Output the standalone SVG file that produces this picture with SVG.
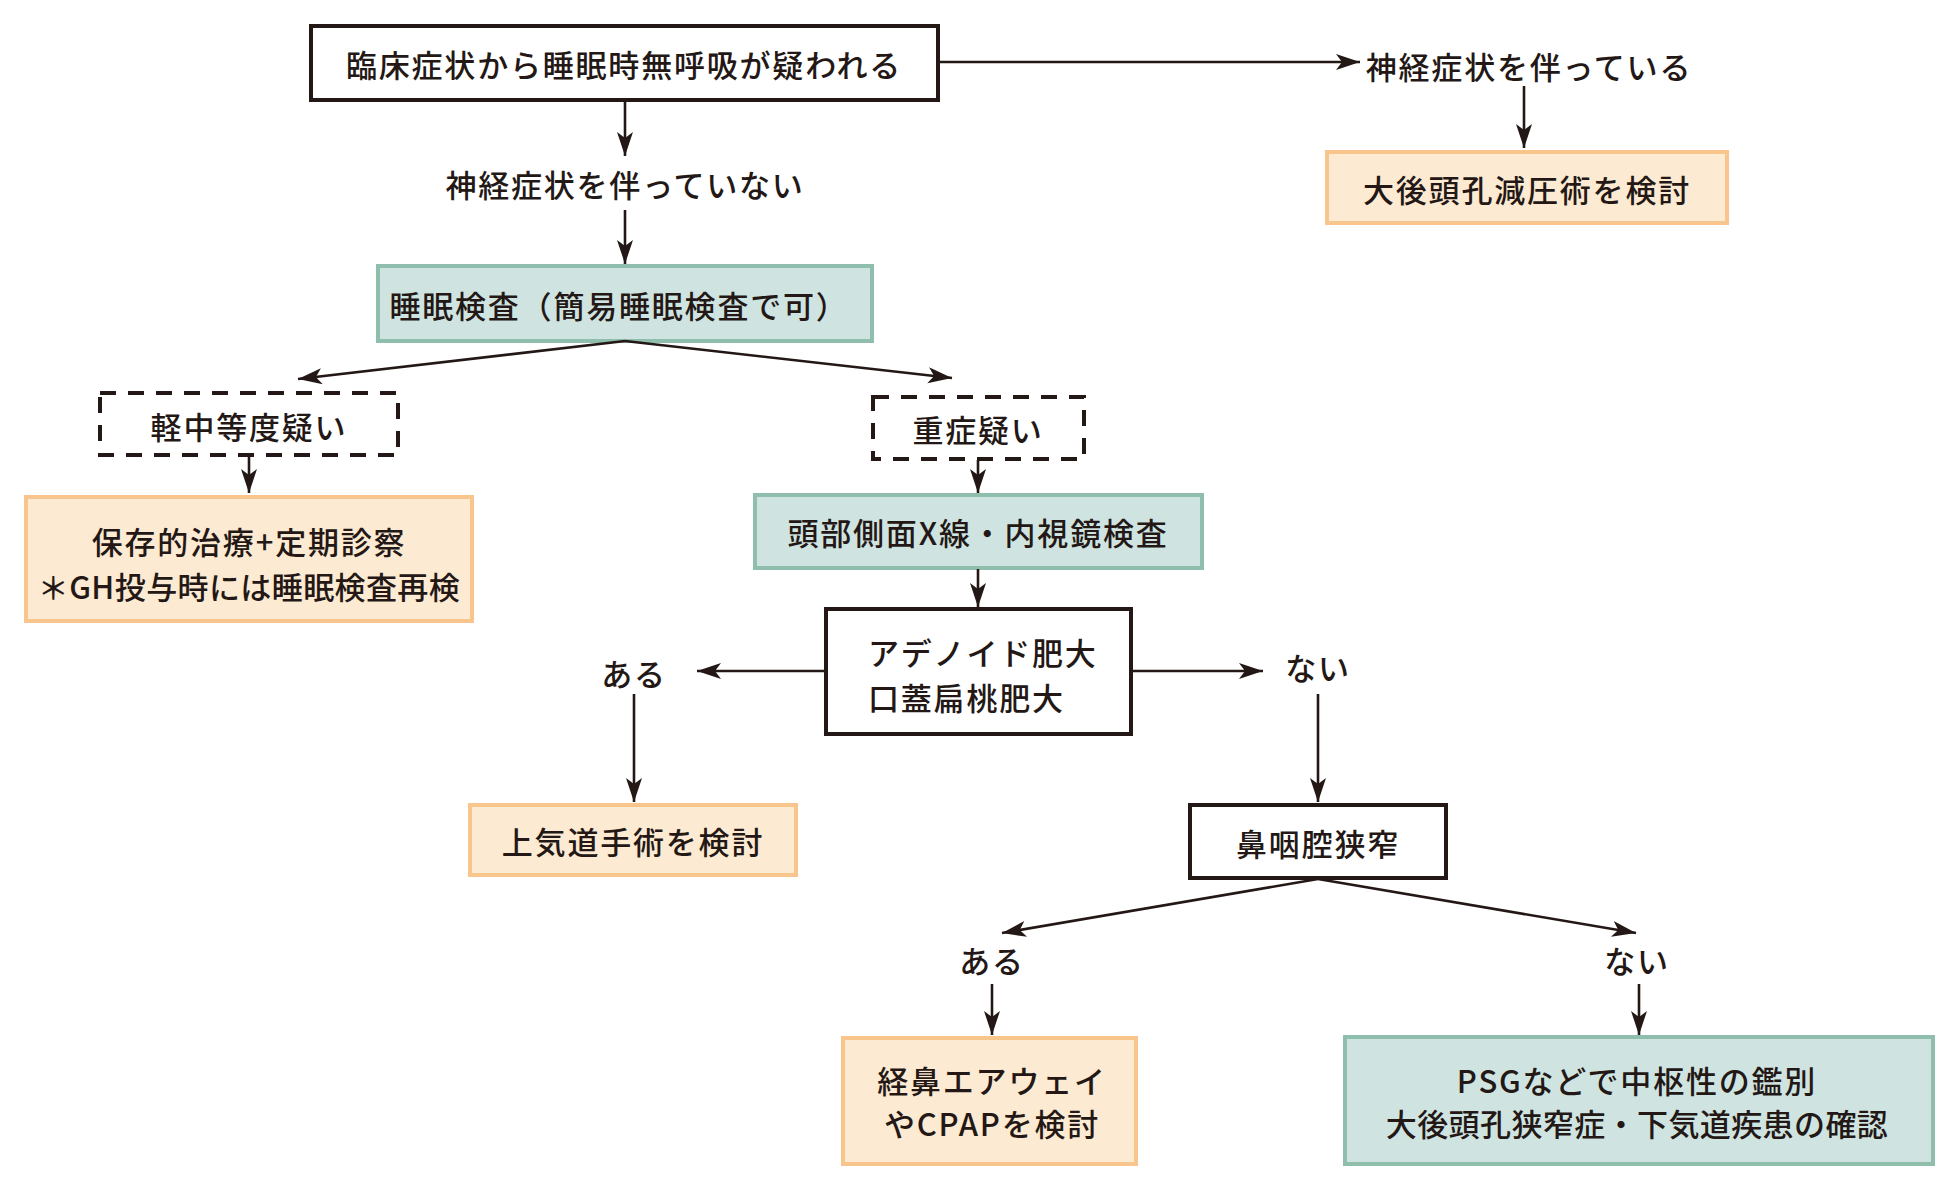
<svg xmlns="http://www.w3.org/2000/svg" width="1960" height="1190" viewBox="0 0 1960 1190">
<defs>
<marker id="ah" markerUnits="userSpaceOnUse" markerWidth="26" markerHeight="18" refX="24" refY="8" orient="auto">
<path d="M0,0 L24,8 L0,16 L6,8 z" fill="#231815"/>
</marker>
<style>
text{font-family:"Noto Sans CJK JP","Noto Sans",sans-serif;font-size:31px;font-weight:500;fill:#231815;letter-spacing:1.8px;text-anchor:middle;dominant-baseline:central}
.tight{letter-spacing:0.4px}
.plain{fill:#fff;stroke:#231815;stroke-width:4}
.dash{fill:#fff;stroke:#231815;stroke-width:4;stroke-dasharray:16 12}
.orange{fill:#fdeAD2;stroke:#f8c68c;stroke-width:4}
.teal{fill:#cfe4e1;stroke:#8fbfac;stroke-width:4}
.conn line{stroke:#231815;stroke-width:2.6;fill:none;marker-end:url(#ah)}
</style>
</defs>
<rect width="1960" height="1190" fill="#fff"/>

<g id="n1"><rect class="plain" x="311" y="26" width="627" height="74"/><text x="624" y="63">臨床症状から睡眠時無呼吸が疑われる</text></g>
<g id="lbl_yes"><text x="1529" y="65">神経症状を伴っている</text></g>
<g id="n2"><rect class="orange" x="1327" y="152" width="400" height="71"/><text x="1527" y="188">大後頭孔減圧術を検討</text></g>
<g id="lbl_no"><text x="625" y="183">神経症状を伴っていない</text></g>
<g id="n3"><rect class="teal" x="378" y="266" width="494" height="75"/><text x="619" y="304">睡眠検査（簡易睡眠検査で可）</text></g>
<g id="n4"><rect class="dash" x="100" y="393" width="298" height="62"/><text x="249" y="425">軽中等度疑い</text></g>
<g id="n5"><rect class="orange" x="26" y="497" width="446" height="124"/><text x="249" y="540">保存的治療+定期診察</text><text class="tight" x="249" y="585">＊GH投与時には睡眠検査再検</text></g>
<g id="n6"><rect class="dash" x="873" y="397" width="211" height="62"/><text x="978" y="428">重症疑い</text></g>
<g id="n7"><rect class="teal" x="755" y="495" width="447" height="73"/><text x="978" y="531">頭部側面X線・内視鏡検査</text></g>
<g id="n8"><rect class="plain" x="826" y="609" width="305" height="125"/><text x="868" y="651" style="text-anchor:start">アデノイド肥大</text><text x="868" y="696" style="text-anchor:start">口蓋扁桃肥大</text></g>
<g id="lbl_a1"><text x="634" y="672">ある</text></g>
<g id="n9"><rect class="orange" x="470" y="805" width="326" height="70"/><text x="633" y="840">上気道手術を検討</text></g>
<g id="lbl_n1"><text x="1318" y="666">ない</text></g>
<g id="n10"><rect class="plain" x="1190" y="805" width="256" height="73"/><text x="1318" y="842">鼻咽腔狭窄</text></g>
<g id="lbl_a2"><text x="992" y="959">ある</text></g>
<g id="lbl_n2"><text x="1637" y="959">ない</text></g>
<g id="n11"><rect class="orange" x="843" y="1038" width="293" height="126"/><text x="992" y="1079">経鼻エアウェイ</text><text x="992" y="1122">やCPAPを検討</text></g>
<g id="n12"><rect class="teal" x="1345" y="1037" width="588" height="127"/><text x="1637" y="1079">PSGなどで中枢性の鑑別</text><text class="tight" x="1637" y="1122">大後頭孔狭窄症・下気道疾患の確認</text></g>

<g class="conn">
<line x1="938" y1="62" x2="1360" y2="62"/>
<line x1="1524" y1="86" x2="1524" y2="148"/>
<line x1="625" y1="100" x2="625" y2="156"/>
<line x1="625" y1="210" x2="625" y2="264"/>
<line x1="625" y1="341" x2="298" y2="379"/>
<line x1="625" y1="341" x2="952" y2="378"/>
<line x1="249" y1="456" x2="249" y2="493"/>
<line x1="978" y1="460" x2="978" y2="493"/>
<line x1="978" y1="569" x2="978" y2="607"/>
<line x1="825" y1="671" x2="697" y2="671"/>
<line x1="1131" y1="671" x2="1263" y2="671"/>
<line x1="634" y1="694" x2="634" y2="802"/>
<line x1="1318" y1="694" x2="1318" y2="802"/>
<line x1="1318" y1="879" x2="1002" y2="933"/>
<line x1="1318" y1="879" x2="1636" y2="933"/>
<line x1="992" y1="984" x2="992" y2="1035"/>
<line x1="1639" y1="984" x2="1639" y2="1035"/>
</g>
</svg>
